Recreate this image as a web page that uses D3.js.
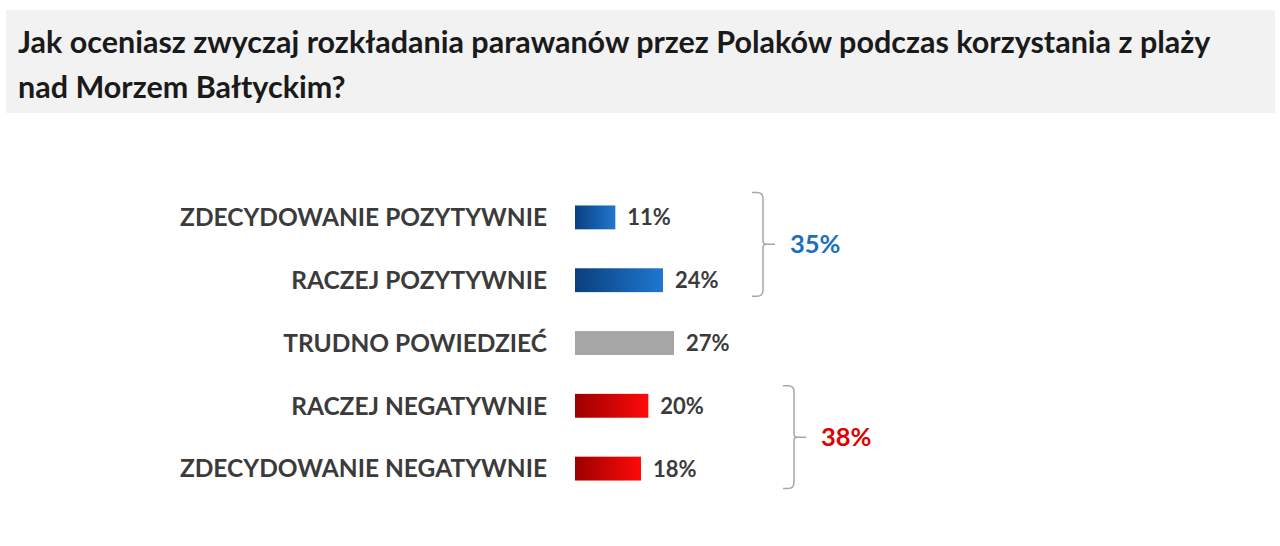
<!DOCTYPE html>
<html><head><meta charset="utf-8">
<script src="https://cdn.jsdelivr.net/npm/d3@7"></script>
<style>body{margin:0;background:#fff;}svg{display:block;}</style>
</head><body>
<svg id="chart" width="1280" height="546"></svg>
<script>
const titleLines = ["Jak oceniasz zwyczaj rozkładania parawanów przez Polaków podczas korzystania z plaży", "nad Morzem Bałtyckim?"];
const categories = ["ZDECYDOWANIE POZYTYWNIE", "RACZEJ POZYTYWNIE", "TRUDNO POWIEDZIEĆ", "RACZEJ NEGATYWNIE", "ZDECYDOWANIE NEGATYWNIE"];
const values = [11, 24, 27, 20, 18];
const groups = ["pos", "pos", "neutral", "neg", "neg"];
const groupTotals = [{group: "pos", label: "35%", from: 0, to: 1}, {group: "neg", label: "38%", from: 3, to: 4}];

const svg = d3.select("#chart");
const defs = svg.append("defs");
const grads = {pos: ["#0b3f7e", "#1f77d0"], neg: ["#9c0000", "#ff0a0a"]};
Object.entries(grads).forEach(([k, c]) => {
  const g = defs.append("linearGradient").attr("id", "g-" + k).attr("x1", "0%").attr("x2", "100%");
  g.append("stop").attr("offset", "0%").attr("stop-color", c[0]);
  g.append("stop").attr("offset", "100%").attr("stop-color", c[1]);
});
const fillFor = g => g === "neutral" ? "#a6a6a6" : `url(#g-${g})`;
const totalColor = {pos: "#1a6fbf", neg: "#e00000"};
const FONT = "Lato, 'Open Sans', sans-serif";

// Title band
svg.append("rect").attr("x", 6).attr("y", 10).attr("width", 1269).attr("height", 103).attr("fill", "#f2f2f2");
svg.selectAll("text.title").data(titleLines).join("text").attr("class", "title")
  .attr("x", 18).attr("y", (d, i) => 53 + i * 45)
  .attr("font-family", FONT).attr("font-weight", "bold")
  .attr("font-size", 30.5).attr("fill", "#1a1a1a").text(d => d);

const x = d3.scaleLinear().domain([0, 27]).range([575, 674]);
const y = d3.scaleBand().domain(categories).range([186, 500]).paddingInner(0.62).paddingOuter(0.31);

svg.selectAll("rect.bar").data(values).join("rect").attr("class", "bar")
  .attr("x", x(0)).attr("y", (d, i) => y(categories[i]))
  .attr("width", d => x(d) - x(0)).attr("height", y.bandwidth())
  .attr("fill", (d, i) => fillFor(groups[i]));

svg.selectAll("text.cat").data(categories).join("text").attr("class", "cat")
  .attr("x", 547).attr("y", d => y(d) + y.bandwidth() / 2).attr("dy", "0.36em")
  .attr("text-anchor", "end").attr("font-family", FONT)
  .attr("font-weight", "bold").attr("font-size", 24.5).attr("fill", "#3b3b3b").text(d => d);

svg.selectAll("text.val").data(values).join("text").attr("class", "val")
  .attr("x", d => x(d) + 12).attr("y", (d, i) => y(categories[i]) + y.bandwidth() / 2).attr("dy", "0.36em")
  .attr("font-family", FONT).attr("font-weight", "bold")
  .attr("font-size", 22).attr("fill", "#3b3b3b").text(d => d + "%");

// Brackets
const bx = {pos: 763, neg: 794};
const padTop = {pos: 13, neg: 8};
const padBot = {pos: 4, neg: 8};
groupTotals.forEach(gt => {
  const yTop = y(categories[gt.from]) - padTop[gt.group];
  const yBot = y(categories[gt.to]) + y.bandwidth() + padBot[gt.group];
  const xv = bx[gt.group];
  const ym = (yTop + yBot) / 2;
  const r = 6;
  const p = `M${xv - 11},${yTop} L${xv - r},${yTop} Q${xv},${yTop} ${xv},${yTop + r} L${xv},${ym - 3} Q${xv},${ym} ${xv + 4},${ym} L${xv + 12},${ym} M${xv + 4},${ym} Q${xv},${ym} ${xv},${ym + 3} L${xv},${yBot - r} Q${xv},${yBot} ${xv - r},${yBot} L${xv - 11},${yBot}`;
  svg.append("path").attr("d", p).attr("fill", "none").attr("stroke", "#a6a6a6").attr("stroke-width", 1.5);
  svg.append("text").attr("x", xv + 27).attr("y", ym).attr("dy", "0.36em")
    .attr("font-family", FONT).attr("font-weight", "bold")
    .attr("font-size", 25.5).attr("fill", totalColor[gt.group]).text(gt.label);
});
</script>
</body></html>
